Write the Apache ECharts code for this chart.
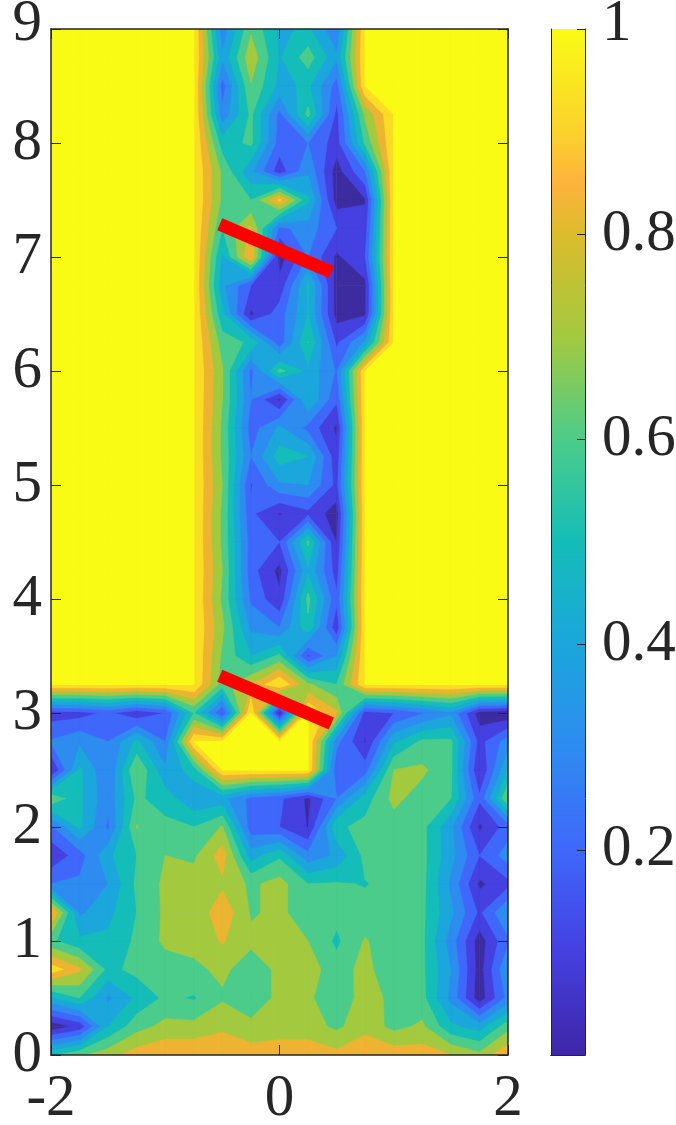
<!DOCTYPE html>
<html><head><meta charset="utf-8">
<style>html,body{margin:0;padding:0;background:#fff}#c{width:676px;height:1125px}</style>
<script src="https://cdn.jsdelivr.net/npm/echarts@6/dist/echarts.min.js"></script>
</head><body><div id="c"></div>
<script>
const xs=[-2,-1.75,-1.5,-1.25,-1,-0.75,-0.5,-0.25,0,0.25,0.5,0.75,1,1.25,1.5,1.75,2];
const ys=[9,8.75,8.5,8.25,8,7.75,7.5,7.25,7,6.75,6.5,6.25,6,5.75,5.5,5.25,5,4.75,4.5,4.25,4,3.75,3.5,3.25,3,2.75,2.5,2.25,2,1.75,1.5,1.25,1,0.75,0.5,0.25,0];
const z=[
[1,1,1,1,1,1,.33,.68,.48,.52,.32,1,1,1,1,1,1],
[1,1,1,1,1,1,.42,.77,.49,.65,.42,1,1,1,1,1,1],
[1,1,1,1,1,1,.25,.69,.47,.52,.25,1,1,1,1,1,1],
[1,1,1,1,1,1,.33,.62,.27,.63,.17,.72,1,1,1,1,1],
[1,1,1,1,1,1,.55,.62,.25,.3,.15,.62,1,1,1,1,1],
[1,1,1,1,1,1,.68,.42,.14,.38,.05,.3,1,1,1,1,1],
[1,1,1,1,1,1,.68,.6,.92,.52,.05,.09,1,1,1,1,1],
[1,1,1,1,1,1,.6,.82,.27,.35,.2,.15,1,1,1,1,1],
[1,1,1,1,1,1,.48,.9,.05,.3,.08,.2,1,1,1,1,1],
[1,1,1,1,1,1,.42,.2,.13,.52,.05,.07,1,1,1,1,1],
[1,1,1,1,1,1,.52,.08,.25,.5,.06,.08,1,1,1,1,1],
[1,1,1,1,1,1,.65,.58,.24,.603,.18,.42,1,1,1,1,1],
[1,1,1,1,1,1,.71,.27,.63,.47,.29,1,1,1,1,1,1],
[1,1,1,1,1,1,.7,.3,.08,.5,.22,1,1,1,1,1,1],
[1,1,1,1,1,1,.68,.25,.42,.27,.08,1,1,1,1,1,1],
[1,1,1,1,1,1,.68,.3,.55,.5,.13,1,1,1,1,1,1],
[1,1,1,1,1,1,.7,.19,.38,.4,.17,1,1,1,1,1,1],
[1,1,1,1,1,1,.68,.22,.09,.17,.05,1,1,1,1,1,1],
[1,1,1,1,1,1,.68,.25,.2,.62,.09,1,1,1,1,1,1],
[1,1,1,1,1,1,.7,.24,.07,.48,.15,1,1,1,1,1,1],
[1,1,1,1,1,1,.68,.28,.12,.63,.22,1,1,1,1,1,1],
[1,1,1,1,1,1,.72,.38,.3,.57,.13,1,1,1,1,1,1],
[1,1,1,1,1,1,.68,.5,.62,.18,.4,1,1,1,1,1,1],
[1,1,1,1,1,1,.65,.8,1,.72,.6,1,1,1,1,1,1],
[.15,.16,.22,.12,.2,.6,.19,1,.06,1,.82,.15,.2,.29,.38,.05,.02],
[.31,.38,.3,.52,.3,1,1,1,1,1,.33,.09,.48,.62,.62,.16,.35],
[.08,.52,.3,.7,.42,.55,1,1,1,1,.22,.25,.7,.72,.62,.09,.5],
[.68,.52,.33,.62,.55,.42,.43,.27,.22,.08,.3,.55,.73,.65,.6,.22,.7],
[.28,.52,.28,.705,.63,.6,.71,.24,.2,.095,.58,.63,.65,.63,.42,.08,.25],
[.12,.25,.48,.6,.7,.68,.85,.45,.58,.33,.42,.63,.63,.63,.43,.2,.35],
[.3,.32,.4,.62,.72,.75,.78,.68,.74,.6,.61,.595,.63,.63,.38,.08,.17],
[.92,.38,.47,.6,.72,.72,.87,.69,.72,.65,.63,.63,.63,.62,.42,.18,.4],
[.62,.52,.52,.62,.72,.73,.81,.72,.73,.7,.58,.71,.63,.62,.35,.05,.28],
[.96,.82,.57,.63,.65,.68,.72,.65,.72,.75,.64,.74,.6,.62,.4,.05,.4],
[.48,.6,.38,.52,.62,.59,.687,.65,.72,.72,.62,.75,.67,.63,.37,.04,.33],
[.03,.13,.5,.66,.73,.73,.78,.72,.74,.74,.68,.76,.67,.72,.52,.45,.66],
[.58,.68,.76,.85,.89,.89,.88,.86,.87,.87,.83,.9,.86,.85,.8,.73,.89]
];
const levels=[0,.1,.2,.3,.4,.5,.6,.7,.8,.9,1];
const bandColors=['#3c2ca0','#4540e0','#3f68fb','#2e8cf0','#1ba6dc','#14bdb8','#4ccc8a','#a3c93f','#ecb430','#fbdc24','#f9fb15'];
const barStops=[[0,'#3e26a8'],[.1,'#4540e0'],[.2,'#3f68fb'],[.3,'#2e8cf0'],[.4,'#1ba6dc'],[.5,'#14bdb8'],[.6,'#4ccc8a'],[.7,'#a3c93f'],[.8,'#dcbc2c'],[.85,'#feb33c'],[.9,'#fbd22c'],[1,'#f9fb15']];
const redLineA=[[-0.523,7.287],[0.454,6.868]];
const redLineB=[[-0.523,3.327],[0.454,2.908]];
const xTicks=[-2,0,2];
const barTicks=[.2,.4,.6,.8,1];

function cross(a,b,L){const t=(L-a[2])/(b[2]-a[2]);return [a[0]+t*(b[0]-a[0]),a[1]+t*(b[1]-a[1]),L];}
function clipCell(q,L){
  const ins=q.map(v=>v[2]>=L);
  const saddle=ins[0]===ins[2]&&ins[1]===ins[3]&&ins[0]!==ins[1];
  if(saddle&&(q[0][2]+q[1][2]+q[2][2]+q[3][2])/4<L){
    const polys=[];
    for(let k=0;k<4;k++)if(ins[k]){
      const a=q[k],n=q[(k+1)%4],p=q[(k+3)%4];
      polys.push([a,cross(a,n,L),cross(a,p,L)]);
    }
    return polys;
  }
  const out=[];
  for(let k=0;k<4;k++){
    const a=q[k],b=q[(k+1)%4];
    if(ins[k])out.push(a);
    if(ins[k]!==ins[(k+1)%4])out.push(cross(a,b,L));
  }
  return out.length>=3?[out]:[];
}
function renderBand(params,api){
  const li=api.value(0),L=levels[li]>=1?0.9999:levels[li],col=bandColors[li],children=[];
  for(let r=0;r<ys.length-1;r++)for(let c=0;c<xs.length-1;c++){
    const q=[[xs[c],ys[r],z[r][c]],[xs[c+1],ys[r],z[r][c+1]],[xs[c+1],ys[r+1],z[r+1][c+1]],[xs[c],ys[r+1],z[r+1][c]]];
    for(const p of clipCell(q,L))
      children.push({type:'polygon',shape:{points:p.map(v=>api.coord([v[0],v[1]]))},style:{fill:col,stroke:col,lineWidth:.6},silent:true});
  }
  return {type:'group',children};
}
const FONT='"Liberation Serif",serif',INK='#262626',FS=59;
const topRich={t:{fontFamily:FONT,fontSize:FS,color:INK,padding:[0,0,9,0]}};
const chart=echarts.init(document.getElementById('c'),null,{renderer:'canvas'});
const axisLine={show:true,onZero:false,lineStyle:{color:INK,width:1.5}};
const tick={show:true,inside:true,length:10,lineStyle:{color:INK,width:1}};
chart.setOption({
  animation:false,
  grid:[{left:51,top:29,width:457,height:1026,outerBoundsMode:'none'},{left:551,top:29,width:34,height:1026,outerBoundsMode:'none'}],
  xAxis:[
    {gridIndex:0,type:'value',min:-2,max:2,interval:2,z:5,axisLine,axisTick:tick,splitLine:{show:false},
     axisLabel:{fontFamily:FONT,fontSize:FS,color:INK,margin:15,hideOverlap:false,showMinLabel:true,showMaxLabel:true,formatter:v=>xTicks.includes(v)?String(v):''}},
    {gridIndex:0,type:'value',position:'top',min:-2,max:2,interval:2,z:5,axisLine,axisTick:tick,splitLine:{show:false},axisLabel:{show:false}},
    {gridIndex:1,type:'category',data:[''],axisLine:{show:true,lineStyle:{color:INK,width:1}},axisTick:{show:false},axisLabel:{show:false},z:5},
    {gridIndex:1,type:'category',position:'top',data:[''],axisLine:{show:true,lineStyle:{color:INK,width:1}},axisTick:{show:false},axisLabel:{show:false},z:5}
  ],
  yAxis:[
    {gridIndex:0,type:'value',min:0,max:9,interval:1,z:5,axisLine,axisTick:tick,splitLine:{show:false},
     axisLabel:{fontFamily:FONT,fontSize:FS,color:INK,margin:9,showMinLabel:true,showMaxLabel:true,hideOverlap:false,rich:topRich,formatter:v=>v===9?'{t|9}':String(v)}},
    {gridIndex:0,type:'value',position:'right',min:0,max:9,interval:1,z:5,axisLine,axisTick:tick,splitLine:{show:false},axisLabel:{show:false}},
    {gridIndex:1,type:'value',position:'right',min:0,max:1,interval:.2,z:5,axisLine:{show:true,onZero:false,lineStyle:{color:INK,width:1}},
     axisTick:{show:true,inside:true,length:8,lineStyle:{color:INK,width:1}},splitLine:{show:false},
     axisLabel:{fontFamily:FONT,fontSize:FS,color:INK,margin:17,hideOverlap:false,rich:topRich,formatter:v=>{const t=barTicks.find(b=>Math.abs(b-v)<1e-6);return t===undefined?'':(t===1?'{t|1}':String(t));}}},
    {gridIndex:1,type:'value',position:'left',min:0,max:1,interval:.2,z:5,axisLine:{show:true,onZero:false,lineStyle:{color:INK,width:1}},axisTick:{show:false},axisLabel:{show:false},splitLine:{show:false}}
  ],
  series:[
    {type:'custom',xAxisIndex:0,yAxisIndex:0,coordinateSystem:'cartesian2d',clip:true,silent:true,data:levels.map((l,i)=>[i]),encode:{x:[],y:[]},renderItem:renderBand,z:2},
    {type:'bar',xAxisIndex:2,yAxisIndex:2,barWidth:'100%',silent:true,data:[1],z:2,
     itemStyle:{color:{type:'linear',x:0,y:1,x2:0,y2:0,colorStops:barStops.map(s=>({offset:s[0],color:s[1]}))}}},
    {type:'line',xAxisIndex:0,yAxisIndex:0,data:redLineA,symbol:'none',silent:true,z:8,lineStyle:{color:'#ff0000',width:13,cap:'butt'}},
    {type:'line',xAxisIndex:0,yAxisIndex:0,data:redLineB,symbol:'none',silent:true,z:8,lineStyle:{color:'#ff0000',width:13,cap:'butt'}}
  ]
});
</script></body></html>
